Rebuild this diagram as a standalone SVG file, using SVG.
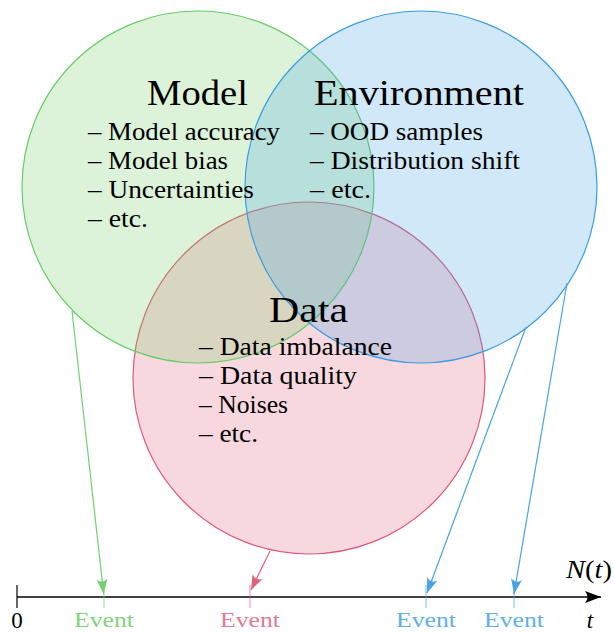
<svg xmlns="http://www.w3.org/2000/svg" width="614" height="633" viewBox="0 0 614 633">
<style>
  text { font-family: "Liberation Serif", "DejaVu Serif", serif; }
  .title { font-size: 36px; fill: #000; }
  .item { font-size: 25px; fill: #000; }
  .ev { font-size: 20px; text-anchor: middle; }
  .ax { font-size: 23px; fill: #000; }
  .circ { fill-opacity: 0.25; stroke-width: 1.2; }
  .conn { fill: none; stroke-width: 1.2; }
  .tick { stroke-width: 1.2; stroke-opacity: 0.6; }
</style>
<defs>
  <marker id="ahG" markerUnits="userSpaceOnUse" markerWidth="20" markerHeight="14" viewBox="-16 -7 18 14" refX="0" refY="0" orient="auto">
    <path d="M0,0 L-15,-5.5 Q-10,0 -15,5.5 Z" fill="#6fd26a"/>
  </marker>
  <marker id="ahR" markerUnits="userSpaceOnUse" markerWidth="20" markerHeight="14" viewBox="-16 -7 18 14" refX="0" refY="0" orient="auto">
    <path d="M0,0 L-15,-5.5 Q-10,0 -15,5.5 Z" fill="#e0627e"/>
  </marker>
  <marker id="ahB" markerUnits="userSpaceOnUse" markerWidth="20" markerHeight="14" viewBox="-16 -7 18 14" refX="0" refY="0" orient="auto">
    <path d="M0,0 L-15,-5.5 Q-10,0 -15,5.5 Z" fill="#47a3e3"/>
  </marker>
  <marker id="ahK" markerUnits="userSpaceOnUse" markerWidth="20" markerHeight="14" viewBox="-16 -7 18 14" refX="0" refY="0" orient="auto">
    <path d="M0,0 L-16,-6 Q-11,0 -16,6 Z" fill="#000"/>
  </marker>
</defs>

<g id="node-data">
  <circle class="circ" cx="309" cy="378" r="176" fill="#e3637f" stroke="#dc5a78"/>
</g>
<g id="node-model">
  <circle class="circ" cx="198" cy="187" r="176" fill="#77cf67" stroke="#66cc66"/>
</g>
<g id="node-environment">
  <circle class="circ" cx="421" cy="187" r="176" fill="#47a3e3" stroke="#3a9de0"/>
</g>

<g id="labels-model">
  <text class="title" x="147" y="105" textLength="101" lengthAdjust="spacingAndGlyphs">Model</text>
  <text class="item" x="88" y="140" textLength="192" lengthAdjust="spacingAndGlyphs">– Model accuracy</text>
  <text class="item" x="88" y="169" textLength="140" lengthAdjust="spacingAndGlyphs">– Model bias</text>
  <text class="item" x="88" y="198" textLength="166" lengthAdjust="spacingAndGlyphs">– Uncertainties</text>
  <text class="item" x="88" y="227" textLength="60" lengthAdjust="spacingAndGlyphs">– etc.</text>
</g>
<g id="labels-environment">
  <text class="title" x="314" y="105" textLength="210" lengthAdjust="spacingAndGlyphs">Environment</text>
  <text class="item" x="310" y="140" textLength="173" lengthAdjust="spacingAndGlyphs">– OOD samples</text>
  <text class="item" x="310" y="169" textLength="210" lengthAdjust="spacingAndGlyphs">– Distribution shift</text>
  <text class="item" x="310" y="198" textLength="61" lengthAdjust="spacingAndGlyphs">– etc.</text>
</g>
<g id="labels-data">
  <text class="title" x="269" y="322" textLength="79" lengthAdjust="spacingAndGlyphs">Data</text>
  <text class="item" x="199" y="355" textLength="193" lengthAdjust="spacingAndGlyphs">– Data imbalance</text>
  <text class="item" x="199" y="384" textLength="158" lengthAdjust="spacingAndGlyphs">– Data quality</text>
  <text class="item" x="199" y="413" textLength="89" lengthAdjust="spacingAndGlyphs">– Noises</text>
  <text class="item" x="199" y="442" textLength="59" lengthAdjust="spacingAndGlyphs">– etc.</text>
</g>

<g id="axis">
  <line x1="17" y1="597" x2="601" y2="597" stroke="#000" stroke-width="1.3" marker-end="url(#ahK)"/>
  <line x1="17" y1="585" x2="17" y2="608" stroke="#000" stroke-width="1.2"/>
  <text class="ax" x="17" y="628" text-anchor="middle">0</text>
  <text class="ax" x="590" y="628" text-anchor="middle" font-style="italic">t</text>
  <text x="566" y="578" font-size="25" fill="#000" textLength="46" lengthAdjust="spacingAndGlyphs"><tspan font-style="italic">N</tspan>(<tspan font-style="italic">t</tspan>)</text>
</g>

<g id="connectors">
  <line class="conn" x1="72" y1="311" x2="103.7" y2="594" stroke="#6fd26a" marker-end="url(#ahG)"/>
  <line class="conn" x1="270" y1="551" x2="251" y2="590" stroke="#e0627e" marker-end="url(#ahR)"/>
  <line class="conn" x1="526" y1="327" x2="427" y2="593" stroke="#47a3e3" marker-end="url(#ahB)"/>
  <line class="conn" x1="567" y1="283" x2="514" y2="594" stroke="#47a3e3" marker-end="url(#ahB)"/>
</g>

<g id="events">
  <line class="tick" x1="104" y1="585" x2="104" y2="608" stroke="#6fd26a"/>
  <line class="tick" x1="250" y1="585" x2="250" y2="608" stroke="#e0627e"/>
  <line class="tick" x1="426" y1="585" x2="426" y2="608" stroke="#47a3e3"/>
  <line class="tick" x1="514" y1="585" x2="514" y2="608" stroke="#47a3e3"/>
  <text class="ev" x="104" y="627" fill="#80d47a" textLength="60" lengthAdjust="spacingAndGlyphs">Event</text>
  <text class="ev" x="250" y="627" fill="#e47a90" textLength="60" lengthAdjust="spacingAndGlyphs">Event</text>
  <text class="ev" x="426" y="627" fill="#5eb0ea" textLength="60" lengthAdjust="spacingAndGlyphs">Event</text>
  <text class="ev" x="514" y="627" fill="#5eb0ea" textLength="60" lengthAdjust="spacingAndGlyphs">Event</text>
</g>
</svg>
